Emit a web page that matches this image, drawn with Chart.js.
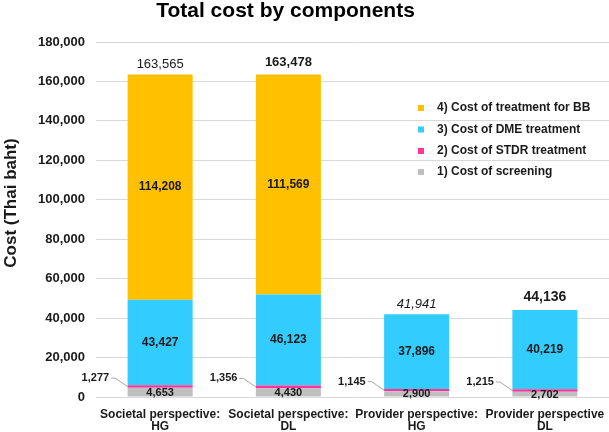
<!DOCTYPE html>
<html>
<head>
<meta charset="utf-8">
<script src="https://cdn.jsdelivr.net/npm/chart.js@4/dist/chart.umd.min.js"></script>
<style>
  html, body { margin: 0; padding: 0; background: #ffffff; }
  #wrap { width: 609px; height: 432px; }
</style>
</head>
<body>
<div id="wrap"><canvas id="c" width="609" height="432"></canvas></div>
<script>
const categories = [
  ['Societal perspective:', 'HG'],
  ['Societal perspective:', 'DL'],
  ['Provider perspective:', 'HG'],
  ['Provider perspective', 'DL']
];
const screening = [4653, 4430, 2900, 2702];
const stdr = [1277, 1356, 1145, 1215];
const dme = [43427, 46123, 37896, 40219];
const bb = [114208, 111569, null, null];
const totals = [163565, 163478, 41941, 44136];
const seriesNames = [
  '1) Cost of screening',
  '2) Cost of STDR treatment',
  '3) Cost of DME treatment',
  '4) Cost of treatment for BB'
];
const chartTitle = 'Total cost by components';
const yTitle = 'Cost (Thai baht)';
const yMax = 180000;
const yStep = 20000;

const FONT = '"Liberation Sans", Arial, Helvetica, sans-serif';
const TXT = '#1a1a1a';
const colors = ['#BFBFBF', '#FF3399', '#33CCFF', '#FFC000'];
const fmt = v => Number(v).toLocaleString('en-US');
const totalStyles = [['normal', 'normal', 13, 10], ['normal', 'bold', 13, 12.5], ['italic', 'normal', 13, 10], ['normal', 'bold', 14, 13]];

const labelPlugin = {
  id: 'labels',
  afterDatasetsDraw(chart) {
    const ctx = chart.ctx;
    ctx.save();
    ctx.fillStyle = TXT;
    ctx.textAlign = 'center';
    ctx.textBaseline = 'middle';
    chart.data.datasets.forEach((ds, di) => {
      const meta = chart.getDatasetMeta(di);
      meta.data.forEach((bar, i) => {
        const v = ds.data[i];
        if (v == null) return;
        const p = bar.getProps(['x', 'y', 'base', 'width'], true);
        const cy = (p.y + p.base) / 2;
        if (di === 1) {
          const left = p.x - p.width / 2;
          const ly = cy - 8.5;
          ctx.strokeStyle = '#a6a6a6';
          ctx.lineWidth = 1;
          ctx.beginPath();
          ctx.moveTo(left - 16.5, ly);
          ctx.lineTo(left - 12.5, ly);
          ctx.lineTo(left, cy);
          ctx.stroke();
          ctx.font = 'bold 11px ' + FONT;
          ctx.textAlign = 'right';
          ctx.fillText(fmt(v), left - 18.5, ly);
          ctx.textAlign = 'center';
        } else {
          ctx.font = (di === 0 ? 'bold 11px ' : 'bold 12px ') + FONT;
          ctx.fillText(fmt(v), p.x, cy + (di === 0 ? 0.5 : 0));
        }
      });
    });
    // totals above stacks
    const n = chart.data.labels.length;
    for (let i = 0; i < n; i++) {
      let top = Infinity, x = 0;
      chart.data.datasets.forEach((ds, di) => {
        if (ds.data[i] == null) return;
        const el = chart.getDatasetMeta(di).data[i];
        if (el.y < top) { top = el.y; x = el.x; }
      });
      const st = totalStyles[i];
      ctx.font = st[0] + ' ' + st[1] + ' ' + st[2] + 'px ' + FONT;
      ctx.fillText(fmt(totals[i]), x, top - st[3]);
    }
    ctx.restore();
  },
  afterDraw(chart) {
    const ctx = chart.ctx;
    ctx.save();
    // title
    ctx.fillStyle = '#000000';
    ctx.font = 'bold 21px ' + FONT;
    ctx.textAlign = 'center';
    ctx.textBaseline = 'alphabetic';
    ctx.fillText(chartTitle, 285.5, 17);
    // y axis title
    ctx.save();
    ctx.translate(11, 203);
    ctx.rotate(-Math.PI / 2);
    ctx.font = 'bold 17px ' + FONT;
    ctx.textBaseline = 'middle';
    ctx.fillStyle = TXT;
    ctx.fillText(yTitle, 0, 0);
    ctx.restore();
    // legend (reverse order)
    const ds = chart.data.datasets;
    ctx.font = 'bold 12px ' + FONT;
    ctx.textAlign = 'left';
    ctx.textBaseline = 'middle';
    const ys = [108, 129.5, 151, 172];
    for (let k = 0; k < ds.length; k++) {
      const d = ds[ds.length - 1 - k];
      ctx.fillStyle = d.backgroundColor;
      ctx.fillRect(418, ys[k] - 3, 6, 6);
      ctx.fillStyle = TXT;
      ctx.fillText(d.label, 437, ys[k]);
    }
    ctx.restore();
  }
};

const datasets = [screening, stdr, dme, bb].map((arr, k) => ({
  label: seriesNames[k],
  data: arr,
  backgroundColor: colors[k],
  borderWidth: 0,
  stack: 's',
  categoryPercentage: 1.0,
  barPercentage: 0.507
}));

new Chart(document.getElementById('c'), {
  type: 'bar',
  data: { labels: categories, datasets },
  options: {
    responsive: false,
    animation: false,
    devicePixelRatio: 1,
    layout: { padding: { top: 42, right: 0, left: 0, bottom: 0 } },
    plugins: {
      legend: { display: false },
      title: { display: false },
      tooltip: { enabled: false }
    },
    scales: {
      x: {
        stacked: true,
        grid: { display: false },
        border: { display: false },
        ticks: {
          color: TXT,
          font: { family: FONT, size: 12, weight: 'bold', lineHeight: 1.05 },
          padding: 3,
          maxRotation: 0,
          autoSkip: false
        },
        afterFit(s) { s.height = 35; s.paddingLeft = 0; s.paddingRight = 0; }
      },
      y: {
        stacked: true,
        min: 0,
        max: yMax,
        grid: { color: '#d9d9d9', lineWidth: 1, drawTicks: false },
        border: { display: false },
        ticks: {
          stepSize: yStep,
          color: TXT,
          padding: 11,
          font: { family: FONT, size: 13, weight: 'bold' },
          callback: v => fmt(v)
        },
        afterFit(s) { s.width = 96; }
      }
    }
  },
  plugins: [labelPlugin]
});
</script>
</body>
</html>
